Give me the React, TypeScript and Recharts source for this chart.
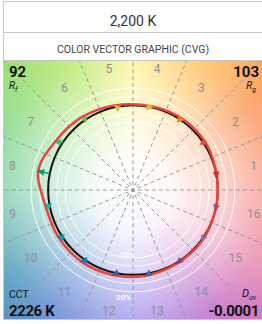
import { ScatterChart, Scatter, XAxis, YAxis } from 'recharts'

const TITLE = '2,200 K'
const SUBTITLE = 'COLOR VECTOR GRAPHIC (CVG)'
const RF = '92'
const RG = '103'
const CCT = '2226 K'
const DUV = '-0.0001'

const BIN_NUMBERS = ['1', '2', '3', '4', '5', '6', '7', '8', '9', '10', '11', '12', '13', '14', '15', '16']
const BIN_ANGLES = [11.25, 33.75, 56.25, 78.75, 101.25, 123.75, 146.25, 168.75, 191.25, 213.75, 236.25, 258.75, 281.25, 303.75, 326.25, 348.75]
const BIN_COLORS = ['#e62828', '#e74b4b', '#fb812e', '#ffb529', '#cbca46', '#7eb94c', '#41c06d', '#009c7c', '#16bcb0', '#00a4bf', '#0085c3', '#3b62aa', '#4568ae', '#6a4e85', '#9d69a1', '#a74f81']
// relative chroma of the test source per hue bin (reference = 1)
const TEST_CHROMA = [1.0, 1.02, 1.02, 1.01, 1.02, 1.05, 1.08, 1.14, 1.05, 1.04, 1.04, 1.03, 1.02, 1.01, 1.01, 1.0]
// hue shift per bin, degrees
const HUE_SHIFT = [-3, -2, -2, -2, 1, 2, 2, 0, -2, -2, -2, -2, -3, -3, -3, -3]
const DIVIDER_ANGLES = [0, 22.5, 45, 67.5, 90, 112.5, 135, 157.5]
const RING_RADII = [0.8, 0.9, 1.1, 1.2]
const RING_LABEL_RADII = [0.8, 1.2]
const RING_LABEL = '20%'

const D = 1.52
const rad = (deg: number) => (deg * Math.PI) / 180
const polar = (r: number, deg: number) => ({ x: r * Math.cos(rad(deg)), y: r * Math.sin(rad(deg)) })

const CIRCLE_ANGLES = [...DIVIDER_ANGLES, ...DIVIDER_ANGLES.map((a) => a + 180), ...BIN_ANGLES].sort((a, b) => a - b)

// closed catmull-rom, so the curves pass through every point
const cardinalClosed = (context: any) => {
  let pts: [number, number][] = []
  return {
    areaStart() {},
    areaEnd() {},
    lineStart() { pts = [] },
    point(x: number, y: number) { pts.push([x, y]) },
    lineEnd() {
      const n = pts.length
      if (!n) return
      context.moveTo(pts[0][0], pts[0][1])
      for (let i = 0; i < n; i++) {
        const p0 = pts[(i - 1 + n) % n], p1 = pts[i], p2 = pts[(i + 1) % n], p3 = pts[(i + 2) % n]
        context.bezierCurveTo(
          p1[0] + (p2[0] - p0[0]) / 6, p1[1] + (p2[1] - p0[1]) / 6,
          p2[0] - (p3[0] - p1[0]) / 6, p2[1] - (p3[1] - p1[1]) / 6,
          p2[0], p2[1],
        )
      }
      context.closePath()
    },
  }
}

const rings = RING_RADII.map((r) => CIRCLE_ANGLES.map((a) => polar(r, a)))
const refCircle = CIRCLE_ANGLES.map((a) => polar(1, a))
const testCurve = BIN_ANGLES.map((a, i) => polar(TEST_CHROMA[i], a + HUE_SHIFT[i]))
const dividers = DIVIDER_ANGLES.map((a) => [polar(-2.5, a), polar(2.5, a)])
const arrows = BIN_ANGLES.map((a, i) => {
  const from = polar(1, a)
  const to = polar(TEST_CHROMA[i], a + HUE_SHIFT[i])
  const dir = (Math.atan2(-(to.y - from.y), to.x - from.x) * 180) / Math.PI
  return [{ ...from, head: false }, { ...to, head: true, dir, color: BIN_COLORS[i] }]
})
const binLabels = BIN_ANGLES.map((a, i) => ({ ...polar(1.45, a), label: BIN_NUMBERS[i] }))
const ringLabels = RING_LABEL_RADII.map((r) => ({ ...polar(r < 1 ? r - 0.035 : r + 0.07, 265), label: RING_LABEL }))

const Blank = () => <g />

function ArrowHead(props: any) {
  const { cx, cy, payload } = props
  if (!payload.head) return <g />
  return (
    <polygon
      points="1,0 -6,-3.2 -6,3.2"
      transform={`translate(${cx},${cy}) rotate(${payload.dir})`}
      fill={payload.color}
      stroke="rgba(0,0,0,0.2)"
      strokeWidth={0.5}
    />
  )
}

function BinLabel(props: any) {
  const { cx, cy, payload } = props
  return (
    <text x={cx} y={cy} textAnchor="middle" dominantBaseline="central" fontSize={12} fill="#8f8f8f" fontFamily="Roboto, sans-serif">
      {payload.label}
    </text>
  )
}

function RingLabel(props: any) {
  const { cx, cy, payload } = props
  return (
    <text x={cx} y={cy} textAnchor="middle" dominantBaseline="central" fontSize={8} fontWeight="bold" fill="#ffffff" fontFamily="Roboto, sans-serif">
      {payload.label}
    </text>
  )
}

const BG = [
  'radial-gradient(circle at 50% 50%, rgba(255,255,255,1) 0px, rgba(255,255,255,0.92) 40px, rgba(255,255,255,0.6) 88px, rgba(255,255,255,0.18) 140px, rgba(255,255,255,0) 180px)',
  'conic-gradient(from 0deg at 50% 50%, #fff38a 0deg, #ffc060 30deg, #fb9a5c 55deg, #f79a8e 90deg, #ea8cab 118deg, #c26dc8 145deg, #9c8ff0 180deg, #5e88d0 215deg, #4f9cbc 235deg, #76cda6 268deg, #86d983 300deg, #b8e864 335deg, #fff38a 360deg)',
].join(',')

const corner: React.CSSProperties = { position: 'absolute', lineHeight: 1, color: '#111' }

export default function App() {
  return (
    <div
      style={{
        position: 'absolute', left: 3, top: 1, width: 258, border: '1px solid #c8c8c8',
        background: '#fff', fontFamily: 'Roboto, sans-serif',
      }}
    >
      <div style={{ height: 31, boxSizing: 'border-box', paddingTop: 7, borderBottom: '1px solid #c8c8c8', display: 'flex', alignItems: 'center', justifyContent: 'center', fontSize: 14, color: '#333' }}>
        {TITLE}
      </div>
      <div style={{ height: 28, boxSizing: 'border-box', paddingTop: 5, borderBottom: '1px solid #c8c8c8', display: 'flex', alignItems: 'center', justifyContent: 'center', fontSize: 10.5, color: '#444' }}>
        {SUBTITLE}
      </div>
      <div style={{ position: 'relative', width: 258, height: 258, background: BG }}>
        <ScatterChart width={258} height={258} margin={{ top: 0, right: 0, bottom: 0, left: 0 }}>
          <XAxis type="number" dataKey="x" domain={[-D, D]} hide allowDataOverflow />
          <YAxis type="number" dataKey="y" domain={[-D, D]} hide allowDataOverflow />
          {rings.map((ring, i) => (
            <Scatter key={`ring${i}`} data={ring} shape={Blank} line={{ stroke: '#ffffff', strokeWidth: 1, strokeOpacity: 0.9 }} lineJointType={cardinalClosed as any} isAnimationActive={false} />
          ))}
          {dividers.map((seg, i) => (
            <Scatter key={`div${i}`} data={seg} shape={Blank} line={{ stroke: '#9a9a9a', strokeWidth: 1, strokeDasharray: '4 3' }} isAnimationActive={false} />
          ))}
          <Scatter data={refCircle} shape={Blank} line={{ stroke: '#111111', strokeWidth: 2 }} lineJointType={cardinalClosed as any} isAnimationActive={false} />
          <Scatter data={testCurve} shape={Blank} line={{ stroke: '#e9453b', strokeWidth: 2.5 }} lineJointType={cardinalClosed as any} isAnimationActive={false} />
          {arrows.map((a, i) => (
            <Scatter key={`arr${i}`} data={a} shape={ArrowHead} line={{ stroke: BIN_COLORS[i], strokeWidth: 1.5 }} isAnimationActive={false} />
          ))}
          <Scatter data={binLabels} shape={BinLabel} isAnimationActive={false} />
          <Scatter data={ringLabels} shape={RingLabel} isAnimationActive={false} />
        </ScatterChart>

        <div style={{ ...corner, left: 5, top: 4, fontSize: 15, fontWeight: 'bold' }}>{RF}</div>
        <div style={{ ...corner, left: 5, top: 20, fontSize: 10, fontStyle: 'italic' }}>R<sub style={{ fontSize: 7 }}>f</sub></div>
        <div style={{ ...corner, right: 3, top: 4, fontSize: 15, fontWeight: 'bold' }}>{RG}</div>
        <div style={{ ...corner, right: 6, top: 20, fontSize: 10, fontStyle: 'italic' }}>R<sub style={{ fontSize: 7 }}>g</sub></div>
        <div style={{ ...corner, left: 5, top: 229, fontSize: 10.5 }}>CCT</div>
        <div style={{ ...corner, left: 5, top: 243, fontSize: 15, fontWeight: 'bold', letterSpacing: -0.4 }}>{CCT}</div>
        <div style={{ ...corner, right: 6, top: 227, fontSize: 11, fontStyle: 'italic' }}>D<sub style={{ fontSize: 7 }}>uv</sub></div>
        <div style={{ ...corner, right: 3, top: 243, fontSize: 15, fontWeight: 'bold', letterSpacing: -0.4 }}>{DUV}</div>
      </div>
    </div>
  )
}
